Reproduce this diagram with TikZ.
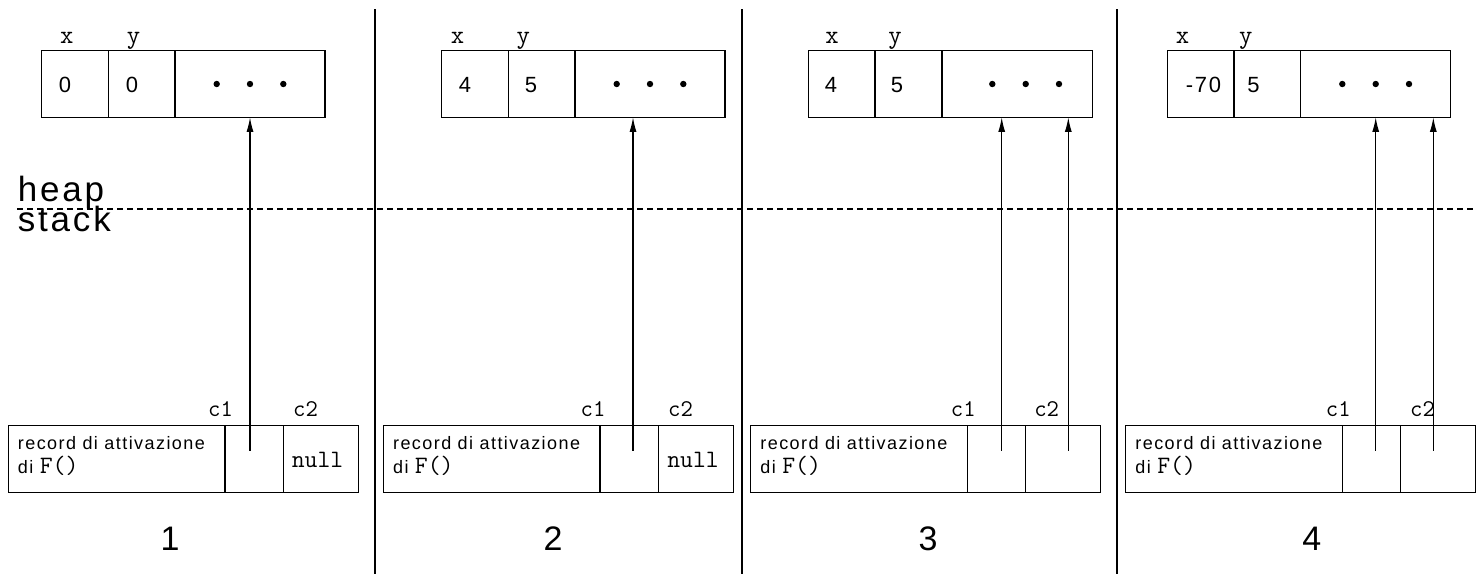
\documentclass[tikz,border=0pt]{standalone}
\usepackage{fontspec}
\usetikzlibrary{arrows.meta}
\newfontfamily\wsf[LetterSpace=8]{Liberation Sans}
\newfontfamily\nsf{Liberation Sans}
\newfontfamily\mtt{Latin Modern Mono}
\newcommand{\fcallF}{{\mtt\fontsize{12.5}{14}\selectfont F()}}
\begin{document}
\begin{tikzpicture}[x=0.5pt,y=-0.5pt,
  line width=0.6pt,
  cell/.style={draw, line width=0.6pt, inner sep=0pt, outer sep=0pt, anchor=north west, minimum height=33.3pt},
  hc/.style={cell, minimum width=33.3pt},
  hd/.style={cell, minimum width=75pt},
  rc/.style={cell, minimum width=108.3pt},
  pc/.style={cell, minimum width=29.2pt},
  qc/.style={cell, minimum width=37.5pt},
  varlab/.style={inner sep=0pt, anchor=base, font=\mtt\fontsize{13}{15}\selectfont},
  val/.style={inner sep=0pt, anchor=base, font=\wsf\fontsize{11}{13}\selectfont},
  reflab/.style={inner sep=0pt, anchor=base, font=\mtt\fontsize{12}{14}\selectfont},
  rec/.style={inner sep=0pt, anchor=base west, font=\wsf\fontsize{9}{11}\selectfont},
  nul/.style={inner sep=0pt, anchor=base, font=\mtt\fontsize{12.5}{14}\selectfont},
  num/.style={inner sep=0pt, anchor=base, font=\nsf\fontsize{17}{20}\selectfont},
  zone/.style={inner sep=0pt, anchor=base west, text height=12pt, text depth=0pt, font=\wsf\fontsize{17.5}{20}\selectfont},
  dotc/.style={fill=black, draw=none},
  ptr/.style={-{Latex[length=7.3pt,width=3.5pt]}, line width=0.6pt},
  sep/.style={line width=0.6pt}]
\useasboundingbox (0,0) rectangle (1476,574);

% separators
\coordinate (s1t) at (375,9);   \coordinate (s1b) at (375,574);
\coordinate (s2t) at (742,9);   \coordinate (s2b) at (742,574);
\coordinate (s3t) at (1117,9);  \coordinate (s3b) at (1117,574);
\draw[sep] (s1t) -- (s1b);
\draw[sep] (s2t) -- (s2b);
\draw[sep] (s3t) -- (s3b);

% heap / stack boundary
\coordinate (dl) at (17,209); \coordinate (dr) at (1476,209);
\draw[dash pattern=on 3pt off 2pt] (dl) -- (dr);
\node[zone] (heap) at (17.3,201.7) {heap};
\node[zone] (stack) at (17.3,231.7) {stack};

% ---------- panel 1 ----------
\node[hc] (h1x) at (41.7,50.7) {};
\node[hc] (h1y) at (108.3,50.7) {};
\node[hd] (h1r) at (175,50.7) {};
\node[varlab] (l1x) at (66.7,43) {x};
\node[varlab] (l1y) at (133.5,43) {y};
\node[val] (v1x) at (65,92) {0};
\node[val] (v1y) at (132,92) {0};
\foreach \xx in {216.7,250,283.3}{\fill[dotc] (\xx,84) circle (1.6pt);}
\node[rc] (r1) at (8.3,425.7) {};
\node[pc] (r1a) at (225,425.7) {};
\node[qc] (r1b) at (283.3,425.7) {};
\node[rec] (t1a) at (17.3,449.5) {record di attivazione};
\node[rec] (t1b) at (17.3,473.5) {di \fcallF};
\node[reflab] (c1a) at (220.5,416.7) {c1};
\node[reflab] (c1b) at (305.5,416.7) {c2};
\node[nul] (n1) at (317.5,467) {null};
\node[num] (k1) at (170,550) {1};
\coordinate (a1) at (250,450.7);
\draw[ptr] (a1) -- (a1 |- h1r.south);

% ---------- panel 2 ----------
\node[hc] (h2x) at (441.7,50.7) {};
\node[hc] (h2y) at (508.3,50.7) {};
\node[hd] (h2r) at (575,50.7) {};
\node[varlab] (l2x) at (457.5,43) {x};
\node[varlab] (l2y) at (523.3,43) {y};
\node[val] (v2x) at (465,92) {4};
\node[val] (v2y) at (531,92) {5};
\foreach \xx in {616.7,650,683.3}{\fill[dotc] (\xx,84) circle (1.6pt);}
\node[rc] (r2) at (383.3,425.7) {};
\node[pc] (r2a) at (600,425.7) {};
\node[qc] (r2b) at (658.3,425.7) {};
\node[rec] (t2a) at (392.5,449.5) {record di attivazione};
\node[rec] (t2b) at (392.5,473.5) {di \fcallF};
\node[reflab] (c2a) at (593,416.7) {c1};
\node[reflab] (c2b) at (680.5,416.7) {c2};
\node[nul] (n2) at (693,467) {null};
\node[num] (k2) at (553,550) {2};
\coordinate (a2) at (633,450.7);
\draw[ptr] (a2) -- (a2 |- h2r.south);

% ---------- panel 3 ----------
\node[hc] (h3x) at (808.3,50.7) {};
\node[hc] (h3y) at (875.3,50.7) {};
\node[hd] (h3r) at (942.3,50.7) {};
\node[varlab] (l3x) at (832,43) {x};
\node[varlab] (l3y) at (895,43) {y};
\node[val] (v3x) at (831,92) {4};
\node[val] (v3y) at (897,92) {5};
\foreach \xx in {992.3,1025.7,1059}{\fill[dotc] (\xx,84) circle (1.6pt);}
\node[rc] (r3) at (750.7,425.7) {};
\node[pc] (r3a) at (967.3,425.7) {};
\node[qc] (r3b) at (1025.7,425.7) {};
\node[rec] (t3a) at (759.8,449.5) {record di attivazione};
\node[rec] (t3b) at (759.8,473.5) {di \fcallF};
\node[reflab] (c3a) at (963.3,416.7) {c1};
\node[reflab] (c3b) at (1046.7,416.7) {c2};
\node[num] (k3) at (928,550) {3};
\coordinate (a3) at (1001.7,450.7);
\coordinate (b3) at (1068.3,450.7);
\draw[ptr] (a3) -- (a3 |- h3r.south);
\draw[ptr] (b3) -- (b3 |- h3r.south);

% ---------- panel 4 ----------
\node[hc] (h4x) at (1167.3,50.7) {};
\node[hc] (h4y) at (1234,50.7) {};
\node[hd] (h4r) at (1300.7,50.7) {};
\node[varlab] (l4x) at (1182.5,43) {x};
\node[varlab] (l4y) at (1245.8,43) {y};
\node[val] (v4x) at (1203.5,92) {-70};
\node[val] (v4y) at (1253.5,92) {5};
\foreach \xx in {1342.3,1375.7,1409}{\fill[dotc] (\xx,84) circle (1.6pt);}
\node[rc] (r4) at (1125.7,425.7) {};
\node[pc] (r4a) at (1342.3,425.7) {};
\node[qc] (r4b) at (1400.7,425.7) {};
\node[rec] (t4a) at (1134.8,449.5) {record di attivazione};
\node[rec] (t4b) at (1134.8,473.5) {di \fcallF};
\node[reflab] (c4a) at (1338.3,416.7) {c1};
\node[reflab] (c4b) at (1422.5,416.7) {c2};
\node[num] (k4) at (1311.7,550) {4};
\coordinate (a4) at (1375.7,450.7);
\coordinate (b4) at (1433.3,450.7);
\draw[ptr] (a4) -- (a4 |- h4r.south);
\draw[ptr] (b4) -- (b4 |- h4r.south);
\end{tikzpicture}
\end{document}
